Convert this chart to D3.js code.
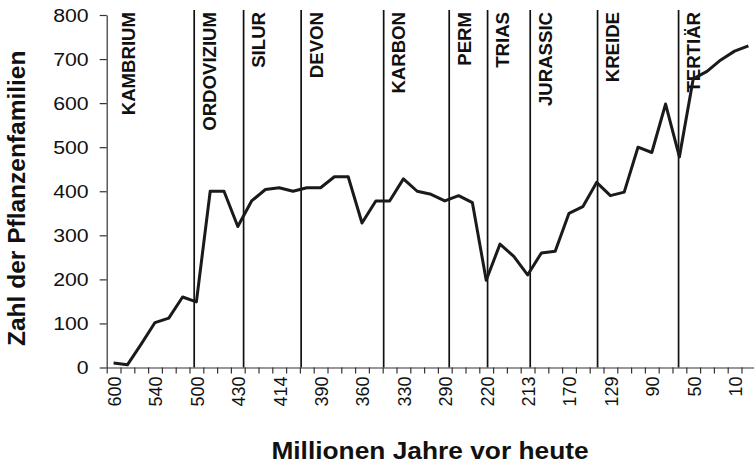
<!DOCTYPE html>
<html>
<head>
<meta charset="utf-8">
<script src="https://cdn.jsdelivr.net/npm/d3@7"></script>
<style>
  html, body { margin: 0; padding: 0; background: #fff; }
  svg { display: block; }
  text { font-family: "Liberation Sans", Arial, Helvetica, sans-serif; fill: #111; }
</style>
</head>
<body>
<svg id="chart" width="754" height="465"></svg>
<script>
// ---- data ----
// Number of plant families per category (one value per x category)
const familyCounts = [10, 6, 53, 102, 112, 160, 149, 400, 400, 320, 378, 404, 408, 400, 408, 408,
  433, 433, 328, 378, 378, 428, 400, 393, 378, 390, 374, 198, 280, 252, 210, 260, 264, 350,
  365, 420, 390, 398, 500, 488, 598, 478, 655, 672, 698, 718, 730];
// Tick labels shown on the x axis (every third category)
const xTickLabels = ["600", "540", "500", "430", "414", "390", "360", "330", "290", "220", "213", "170", "129", "90", "50", "10"];
const labelEvery = 3;
// Geological periods: name and start position (in category-index units)
const periodNames = ["KAMBRIUM", "ORDOVIZIUM", "SILUR", "DEVON", "KARBON", "PERM", "TRIAS", "JURASSIC", "KREIDE", "TERTIÄR"];
const periodStarts = [0, 5.84, 9.42, 13.59, 19.57, 24.32, 27.10, 30.19, 35.07, 40.94];
const yTicks = [0, 100, 200, 300, 400, 500, 600, 700, 800];
const xTitle = "Millionen Jahre vor heute";
const yTitle = "Zahl der Pflanzenfamilien";

// ---- layout ----
const svg = d3.select("#chart");
const plotLeft = 106.7, step = 13.8;
const n = familyCounts.length;
const plotRight = plotLeft + n * step;
const plotTop = 15, plotBottom = 367.5;

const x = d3.scaleBand().domain(d3.range(n)).range([plotLeft, plotRight]).paddingInner(0).paddingOuter(0);
const xEdge = d3.scaleLinear().domain([0, n]).range([plotLeft, plotRight]);
const xPos = d3.scaleLinear().domain([0, n - 1]).range([x(0) + x.bandwidth() / 2, x(n - 1) + x.bandwidth() / 2]);
const y = d3.scaleLinear().domain([0, 800]).range([plotBottom, plotTop]);

// period boundary lines
svg.append("g").selectAll("line")
  .data(periodStarts.slice(1))
  .join("line")
  .attr("x1", d => xPos(d)).attr("x2", d => xPos(d))
  .attr("y1", 10).attr("y2", plotBottom)
  .attr("stroke", "#111").attr("stroke-width", 1.7);

// period labels
svg.append("g").selectAll("text")
  .data(periodNames)
  .join("text")
  .attr("transform", (d, i) => `translate(${xPos(periodStarts[i]) + 21.5},12) rotate(-90)`)
  .attr("text-anchor", "end")
  .attr("font-weight", "bold")
  .attr("font-size", 18.6)
  .text(d => d);

// y axis
const yAxis = svg.append("g")
  .attr("transform", `translate(${plotLeft},0)`)
  .call(d3.axisLeft(y).tickValues(yTicks).tickSize(7).tickSizeOuter(0).tickPadding(12));
yAxis.select(".domain").attr("stroke", "#333").attr("stroke-width", 1.2);
yAxis.selectAll(".tick line").attr("stroke", "#333").attr("stroke-width", 1.2);
yAxis.selectAll("text")
  .attr("x", 0)
  .attr("transform", "translate(-18,0) scale(1.12,1)")
  .attr("font-size", 19)
  .attr("font-family", "Liberation Sans, Arial, sans-serif")
  .attr("fill", "#111");

// x axis tick marks at category boundaries
const xTickAxis = svg.append("g")
  .attr("transform", `translate(0,${plotBottom})`)
  .call(d3.axisBottom(xEdge).tickValues(d3.range(n + 1)).tickSize(6).tickSizeOuter(0).tickFormat(""));
xTickAxis.select(".domain").attr("stroke", "#333").attr("stroke-width", 1.2);
xTickAxis.selectAll(".tick line").attr("stroke", "#333").attr("stroke-width", 1.2);

// x axis labels (every third category)
const xLabelAxis = svg.append("g")
  .attr("transform", `translate(0,${plotBottom})`)
  .call(d3.axisBottom(x)
    .tickValues(d3.range(0, n, labelEvery))
    .tickSize(0)
    .tickFormat(i => xTickLabels[i / labelEvery]));
xLabelAxis.select(".domain").remove();
xLabelAxis.selectAll("text")
  .attr("transform", "rotate(-90)")
  .attr("x", -9).attr("y", 1).attr("dy", "0.36em")
  .attr("text-anchor", "end")
  .attr("font-size", 18)
  .attr("font-family", "Liberation Sans, Arial, sans-serif")
  .attr("fill", "#111");

// data line
const line = d3.line()
  .x((d, i) => x(i) + x.bandwidth() / 2)
  .y(d => y(d));
svg.append("path")
  .datum(familyCounts)
  .attr("d", line)
  .attr("fill", "none")
  .attr("stroke", "#1a1a1a")
  .attr("stroke-width", 3)
  .attr("stroke-linejoin", "round");

// axis titles
svg.append("text")
  .attr("transform", "translate(430,459) scale(1.12,1)")
  .attr("text-anchor", "middle")
  .attr("font-weight", "bold")
  .attr("font-size", 23.5)
  .text(xTitle);
svg.append("text")
  .attr("transform", `translate(25,${(plotTop + plotBottom) / 2 + 7}) rotate(-90)`)
  .attr("text-anchor", "middle")
  .attr("font-weight", "bold")
  .attr("font-size", 24.5)
  .text(yTitle);
</script>
</body>
</html>
